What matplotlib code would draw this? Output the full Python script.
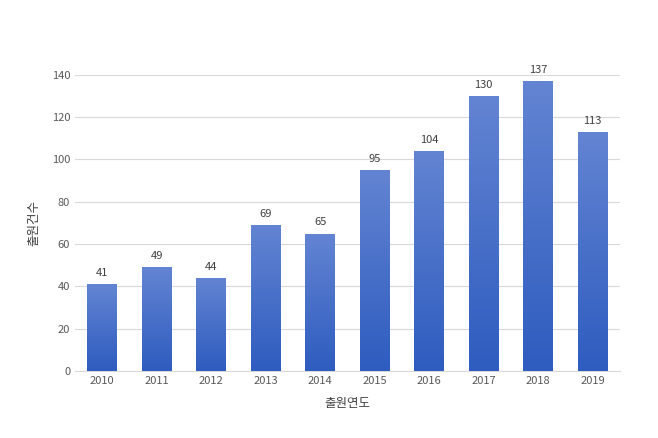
import matplotlib
matplotlib.use('Agg')
import numpy as np
import matplotlib.pyplot as plt
from matplotlib.colors import LinearSegmentedColormap

plt.rcParams['font.family'] = ['Noto Sans CJK KR', 'DejaVu Sans']

years = ['2010', '2011', '2012', '2013', '2014', '2015', '2016', '2017', '2018', '2019']
counts = [41, 49, 44, 69, 65, 95, 104, 130, 137, 113]

fig = plt.figure(figsize=(6.58, 4.38), dpi=100)
ax = fig.add_axes([0.114, 0.153, 0.828, 0.676])

x = np.arange(len(years))
bars = ax.bar(x, counts, width=0.55, color='none', zorder=3)

cmap = LinearSegmentedColormap.from_list('blue', ['#2e5cbf', '#6384d2'])
grad = np.linspace(0, 1, 256).reshape(-1, 1)
for b in bars:
    bx, by = b.get_x(), b.get_y()
    w, h = b.get_width(), b.get_height()
    im = ax.imshow(grad, cmap=cmap, extent=[bx, bx + w, by, by + h],
                   origin='lower', aspect='auto', zorder=3)
    im.set_clip_path(b)
    ax.text(bx + w / 2, h + 3, str(int(h)), ha='center', va='bottom',
            fontsize=8, color='#404040')

ax.set_xlim(-0.5, len(years) - 0.5)
ax.set_ylim(0, 140)
ax.set_yticks(range(0, 141, 20))
ax.set_xticks(x)
ax.set_xticklabels(years)
ax.tick_params(length=0, labelsize=8, colors='#595959')
ax.yaxis.grid(True, color='#d9d9d9', linewidth=0.8, zorder=0)
for s in ['top', 'right', 'left']:
    ax.spines[s].set_visible(False)
ax.spines['bottom'].set_color('#d9d9d9')
ax.set_xlabel('출원연도', fontsize=9, color='#404040', labelpad=8)
ax.set_ylabel('출원건수', fontsize=9, color='#404040', labelpad=8)

fig.savefig('out.png', dpi=100)
